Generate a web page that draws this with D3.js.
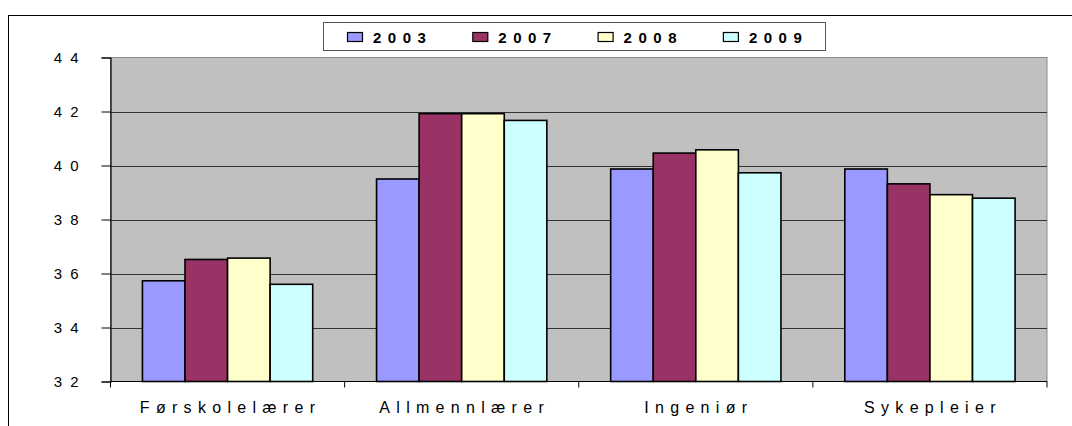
<!DOCTYPE html>
<html>
<head>
<meta charset="utf-8">
<script src="https://cdn.jsdelivr.net/npm/d3@7"></script>
<style>
  html, body { margin: 0; padding: 0; background: #fff; }
  svg { display: block; font-family: "Liberation Sans", Arial, sans-serif; }
</style>
</head>
<body>
<svg id="chart" width="1072" height="426"></svg>
<script>
// Occupations and survey years
const categories = ["Førskolelærer", "Allmennlærer", "Ingeniør", "Sykepleier"];
const years = ["2003", "2007", "2008", "2009"];

// Values per year, in the order of the categories
const values2003 = [35.73, 39.5, 39.87, 39.87];
const values2007 = [36.52, 41.92, 40.46, 39.32];
const values2008 = [36.57, 41.92, 40.58, 38.92];
const values2009 = [35.6, 41.67, 39.73, 38.79];

const yTicks = [32, 34, 36, 38, 40, 42, 44];
const colors = ["#9999FF", "#993366", "#FFFFCC", "#CCFFFF"];

const seriesValues = [values2003, values2007, values2008, values2009];

const svg = d3.select("#chart");

// chart frame
svg.append("rect")
  .attr("x", 8.5).attr("y", 15.5)
  .attr("width", 1200).attr("height", 600)
  .attr("fill", "#fff").attr("stroke", "#000").attr("stroke-width", 1);

const plot = { left: 110.5, right: 1047, top: 57.5, bottom: 381.5 };

const x0 = d3.scaleBand().domain(categories).range([plot.left, plot.right]).padding(0);
const x1 = d3.scaleBand().domain(years).range([0, x0.bandwidth()])
  .paddingInner(0).paddingOuter(0.75);
const y = d3.scaleLinear().domain([32, 44]).range([plot.bottom, plot.top]);
const color = d3.scaleOrdinal().domain(years).range(colors);

// plot background
svg.append("rect")
  .attr("x", plot.left).attr("y", plot.top)
  .attr("width", plot.right - plot.left).attr("height", plot.bottom - plot.top)
  .attr("fill", "#C0C0C0").attr("stroke", "#8a8a8a").attr("stroke-width", 1);

// horizontal gridlines
svg.append("g")
  .selectAll("line")
  .data(yTicks.slice(1, -1))
  .join("line")
  .attr("x1", plot.left).attr("x2", plot.right)
  .attr("y1", d => Math.round(y(d)) + 0.5).attr("y2", d => Math.round(y(d)) + 0.5)
  .attr("stroke", "#333").attr("stroke-width", 1);

// bars
const groups = svg.append("g")
  .selectAll("g")
  .data(categories)
  .join("g")
  .attr("transform", d => `translate(${x0(d)},0)`);

groups.selectAll("rect")
  .data((c, i) => years.map((yr, j) => ({ year: yr, value: seriesValues[j][i] })))
  .join("rect")
  .attr("x", d => x1(d.year))
  .attr("y", d => y(d.value))
  .attr("width", x1.bandwidth())
  .attr("height", d => y(32) - y(d.value))
  .attr("fill", d => color(d.year))
  .attr("stroke", "#000")
  .attr("stroke-width", 1.6);

// left axis
const yAxis = d3.axisLeft(y).tickValues(yTicks).tickSize(9).tickFormat(d => d);
const gy = svg.append("g")
  .attr("transform", `translate(${plot.left},0)`)
  .call(yAxis)
  .attr("font-size", null)
  .attr("font-family", null);
gy.select(".domain").attr("stroke", "#000").attr("stroke-width", 1.2);
gy.selectAll(".tick line").attr("stroke", "#000");
gy.selectAll(".tick text")
  .attr("x", -24)
  .attr("fill", "#000")
  .style("font-size", "15px")
  .style("letter-spacing", "8px");

// bottom axis line and boundary ticks
svg.append("line")
  .attr("x1", plot.left).attr("x2", plot.right)
  .attr("y1", plot.bottom).attr("y2", plot.bottom)
  .attr("stroke", "#000").attr("stroke-width", 1.2);

const boundaries = categories.map(c => x0(c)).concat([plot.right]);
svg.append("g")
  .selectAll("line")
  .data(boundaries)
  .join("line")
  .attr("x1", d => d).attr("x2", d => d)
  .attr("y1", plot.bottom).attr("y2", plot.bottom + 6)
  .attr("stroke", "#000").attr("stroke-width", 1);

// category labels
svg.append("g")
  .selectAll("text")
  .data(categories)
  .join("text")
  .attr("x", d => x0(d) + x0.bandwidth() / 2 + 3)
  .attr("y", 413)
  .attr("text-anchor", "middle")
  .style("font-size", "16px")
  .style("letter-spacing", "6.3px")
  .text(d => d);

// legend
const legend = svg.append("g");
legend.append("rect")
  .attr("x", 323.5).attr("y", 22.5)
  .attr("width", 502).attr("height", 28)
  .attr("fill", "#fff").attr("stroke", "#555").attr("stroke-width", 1);

const legendItem = legend.selectAll("g")
  .data(years)
  .join("g")
  .attr("transform", (d, i) => `translate(${347 + i * 125.3},0)`);

legendItem.append("rect")
  .attr("x", 0.5).attr("y", 32.5)
  .attr("width", 15).attr("height", 9)
  .attr("fill", d => color(d))
  .attr("stroke", "#000").attr("stroke-width", 1.2);

legendItem.append("text")
  .attr("x", 26).attr("y", 42.5)
  .style("font-size", "15px")
  .style("font-weight", "bold")
  .style("letter-spacing", "6.5px")
  .text(d => d);
</script>
</body>
</html>
